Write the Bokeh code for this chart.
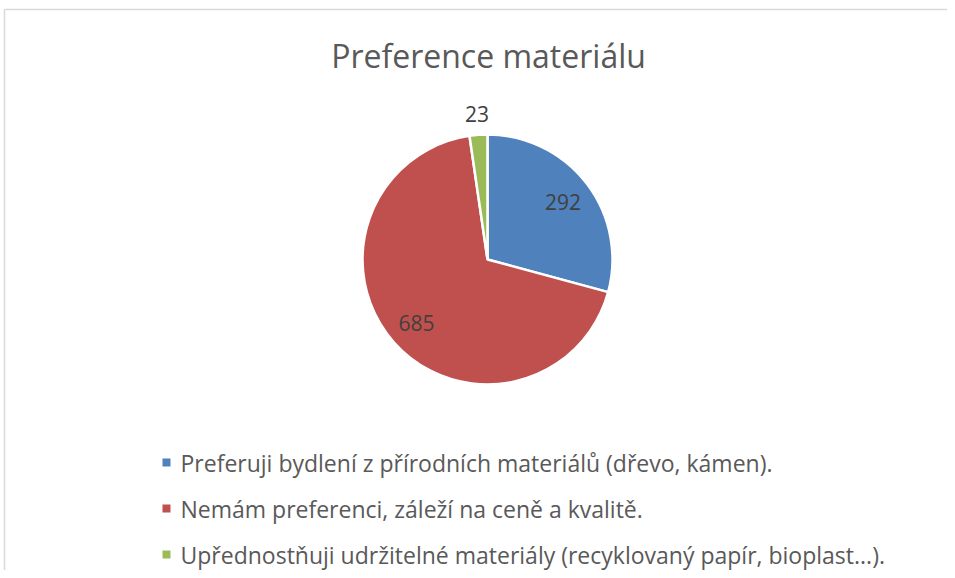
import math
from bokeh.plotting import figure
from bokeh.models import ColumnDataSource, Range1d
from bokeh.core.properties import value
from bokeh.embed import file_html
from bokeh.resources import INLINE

title_text = "Preference materiálu"
categories = [
    "Preferuji bydlení z přírodních materiálů (dřevo, kámen).",
    "Nemám preferenci, záleží na ceně a kvalitě.",
    "Upřednostňuji udržitelné materiály (recyklovaný papír, bioplast...).",
]
counts = [292, 685, 23]
colors = ["#4F81BD", "#C0504D", "#9BBB59"]

W, H = 947, 570
FONT = "Open Sans"

def fy(ref_y):
    return H - ref_y

def fx(ref_x):
    return ref_x

p = figure(width=W, height=H, output_backend="svg", toolbar_location=None,
           x_range=Range1d(0, W), y_range=Range1d(0, H), min_border=0,
           outline_line_color=None, background_fill_color="white")
p.axis.visible = False
p.grid.visible = False

# chart border (cropped at right/bottom)
p.line(x=[fx(4), fx(4)], y=[fy(9), 0], line_color="#D9D9D9", line_width=1.5)
p.line(x=[fx(4), W], y=[fy(9), fy(9)], line_color="#D9D9D9", line_width=1.5)

cx, cy, r = fx(487), fy(259), 125
total = sum(counts)
starts, ends, lx, ly, labels = [], [], [], [], []
a = math.pi / 2
for i, c in enumerate(counts):
    span = 2 * math.pi * c / total
    starts.append(a)
    ends.append(a - span)
    mid = a - span / 2
    rr = 0.76 * r if c / total > 0.05 else r + 21
    lx.append(cx + rr * math.cos(mid))
    ly.append(cy + rr * math.sin(mid))
    labels.append(str(c))
    a -= span

src = ColumnDataSource(dict(start=starts, end=ends, color=colors, lx=lx, ly=ly, label=labels))
p.wedge(x=cx, y=cy, radius=r, start_angle="start", end_angle="end", direction="clock",
        fill_color="color", line_color="white", line_width=2.5, source=src)
p.text(x="lx", y="ly", text="label", source=src, text_align="center", text_baseline="middle",
       text_font=value(FONT), text_font_size="21px", text_color="#404040")

p.text(x=[fx(488)], y=[fy(55)], text=[title_text], text_align="center", text_baseline="middle",
       text_font=value(FONT), text_font_size="32px", text_color="#595959")

row_y = [fy(462), fy(508), fy(554)]
leg = ColumnDataSource(dict(x=[fx(166)] * 3, tx=[fx(180)] * 3, y=row_y, color=colors, label=categories))
p.rect(x="x", y="y", width=8, height=8, fill_color="color", line_color=None, source=leg)
p.text(x="tx", y="y", text="label", source=leg, text_align="left", text_baseline="middle",
       text_font=value(FONT), text_font_size="23px", text_color="#595959")

open("out.html", "w").write(file_html(p, INLINE))
